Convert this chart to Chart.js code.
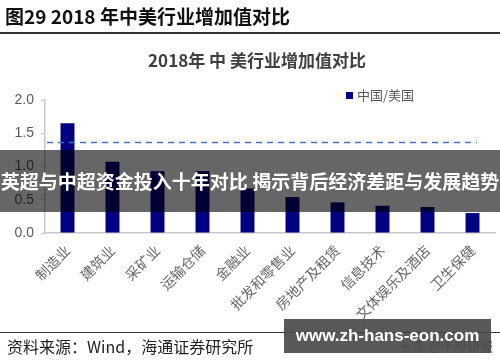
<!DOCTYPE html>
<html>
<head>
<meta charset="utf-8">
<script src="https://cdn.jsdelivr.net/npm/chart.js@4"></script>
<style>
  html, body { margin: 0; padding: 0; background: #fff; }
  #wrap { position: relative; width: 500px; height: 362px; overflow: hidden; font-family: 'Noto Sans CJK SC', 'Liberation Sans', sans-serif; }
  #chart { position: absolute; left: 0; top: 0; }
  .head { position: absolute; left: 5px; top: 2px; font-size: 19px; font-weight: bold; color: #111; white-space: nowrap; }
  .rule { position: absolute; left: 0; width: 500px; background: #333; }
  .src { position: absolute; left: 7px; top: 334px; font-size: 16px; color: #222; white-space: nowrap; }
  .mark { position: absolute; left: 400px; top: 336px; font-size: 13px; color: #888; white-space: nowrap; }
  .banner { position: absolute; left: 0; top: 150px; width: 500px; height: 62px; background: rgba(0,0,0,0.6);
            color: #fff; font-size: 19px; font-weight: bold; line-height: 62px; text-align: center; white-space: nowrap; }
  .site { position: absolute; left: 284px; top: 319px; width: 207px; height: 34px; background: rgba(70,70,70,0.9);
          color: #fff; font-family: 'Liberation Sans', sans-serif; font-size: 17px; font-weight: bold; line-height: 34px; text-align: center; }
</style>
</head>
<body>
<div id="wrap">
  <canvas id="chart" width="500" height="362"></canvas>
  <div class="head">图29 2018 年中美行业增加值对比</div>
  <div class="rule" style="top:32px;height:2px"></div>
  <div class="rule" style="top:332px;height:1px"></div>
  <div class="src">资料来源：Wind，海通证券研究所</div>
  <div class="mark">头条 @个股研报</div>
  <div class="banner">英超与中超资金投入十年对比 揭示背后经济差距与发展趋势</div>
  <div class="site">www.zh-hans-eon.com</div>
</div>
<script>
// 2018 industry value added, China / US ratio
const industries = ['制造业', '建筑业', '采矿业', '运输仓储', '金融业', '批发和零售业', '房地产及租赁', '信息技术', '文体娱乐及酒店', '卫生保健'];
const ratios     = [1.65, 1.07, 0.93, 0.93, 0.67, 0.54, 0.46, 0.41, 0.39, 0.30];
const avgRatio   = 1.36;
const seriesName = '中国/美国';
const chartTitle = '2018年 中 美行业增加值对比';
const yTicks     = [0, 0.5, 1.0, 1.5, 2.0];

const NAVY = '#000080';
const GREY = '#595959';

// title, legend and the dashed average line are drawn here
const decor = {
    id: 'decor',
    afterDatasetsDraw(chart) {
        const ctx  = chart.ctx;
        const area = chart.chartArea;
        const y    = chart.scales.y.getPixelForValue(avgRatio);

        ctx.save();
        ctx.strokeStyle = '#4a6fc8';
        ctx.lineWidth   = 1.5;
        ctx.setLineDash([6, 5]);
        ctx.beginPath();
        ctx.moveTo(area.left + 2, y);
        ctx.lineTo(area.right - 18, y);
        ctx.stroke();
        ctx.restore();
    },
    afterDraw(chart) {
        const ctx = chart.ctx;
        ctx.save();
        ctx.fillStyle    = '#404040';
        ctx.font         = "bold 17px 'Noto Sans CJK SC'";
        ctx.textAlign    = 'center';
        ctx.textBaseline = 'middle';
        ctx.fillText(chartTitle, 257, 61);

        const ds = chart.data.datasets[0];
        ctx.fillStyle = ds.backgroundColor;
        ctx.fillRect(346, 92, 7, 7);
        ctx.fillStyle = GREY;
        ctx.font      = "13px 'Noto Sans CJK SC'";
        ctx.textAlign = 'left';
        ctx.fillText(ds.label, 357, 95);
        ctx.restore();
    }
};

new Chart(document.getElementById('chart'), {
    type: 'bar',
    data: {
        labels: industries,
        datasets: [{
            label          : seriesName,
            data           : ratios,
            backgroundColor: NAVY,
            barPercentage  : 0.31,
            categoryPercentage: 1
        }]
    },
    options: {
        responsive: false,
        animation : false,
        layout    : {padding: {top: 100, right: 5, left: 0, bottom: 0}},
        plugins   : {legend: {display: false}, title: {display: false}, tooltip: {enabled: false}},
        scales    : {
            x: {
                grid  : {display: true, drawOnChartArea: false, tickLength: 0, color: 'rgba(0,0,0,0)'},
                border: {display: true, color: '#c8c8c8', width: 1.5},
                ticks : {minRotation: 45, maxRotation: 45, padding: 9, color: '#666', font: {family: "'Noto Sans CJK SC'", size: 14}},
                afterFit: s => { s.height = 129; }
            },
            y: {
                min: 0,
                max: 2,
                afterBuildTicks: s => { s.ticks = yTicks.map(v => ({value: v})); },
                grid  : {display: true, drawOnChartArea: false, tickLength: 4, color: '#c8c8c8'},
                border: {display: true, color: '#c8c8c8', width: 1.5},
                ticks : {padding: 7, color: GREY, font: {family: "'Liberation Sans'", size: 14}, callback: v => v.toFixed(1)},
                afterFit: s => { s.width = 45; }
            }
        }
    },
    plugins: [decor]
});
</script>
</body>
</html>
